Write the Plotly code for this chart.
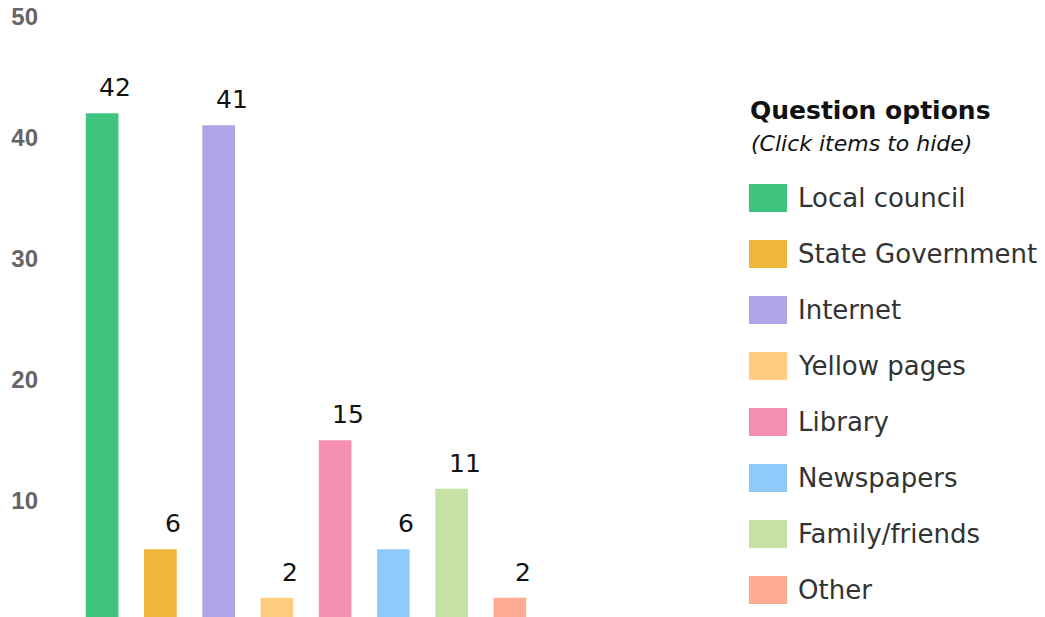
import plotly.graph_objects as go

categories = ["Local council", "State Government", "Internet", "Yellow pages",
              "Library", "Newspapers", "Family/friends", "Other"]
counts = [42, 6, 41, 2, 15, 6, 11, 2]
colors = ["#3EC47F", "#F0B63B", "#ADA5E6", "#FFCC80",
          "#F48FB1", "#90CAF9", "#C5E1A5", "#FFAB91"]
y_ticks = [10, 20, 30, 40, 50]

# page puts the figure 8px in from the top-left corner
OFF = 8
W, H = 1045, 617
M_L, M_R, M_T, M_B = 73 - OFF, 506 + OFF, 16 - OFF, OFF
plot_w = W - M_L - M_R
plot_h = H - M_T - M_B


def px_x(px):
    return (px - OFF - M_L) / plot_w


def px_y(py):
    return (H - M_B - (py - OFF)) / plot_h


fig = go.Figure(layout=dict(width=W, height=H))

for i, (cat, val, col) in enumerate(zip(categories, counts, colors)):
    fig.add_trace(go.Bar(
        x=[i], y=[val], name=cat, width=0.56,
        marker=dict(color=col, line=dict(width=0)),
        hovertemplate=f"{cat}: %{{y}}<extra></extra>",
        showlegend=False,
    ))
    fig.add_annotation(
        x=i, y=val, text=str(val), showarrow=False,
        xshift=13, yshift=9, yanchor="bottom",
        font=dict(family="DejaVu Sans", size=25, color="#111"),
    )

# legend drawn by hand so the swatches can be large
fig.add_annotation(
    xref="paper", yref="paper", x=px_x(748), y=px_y(111),
    xanchor="left", yanchor="middle", showarrow=False,
    text="<b>Question options</b>",
    font=dict(family="DejaVu Sans", size=25, color="#111"),
)
fig.add_annotation(
    xref="paper", yref="paper", x=px_x(749), y=px_y(143),
    xanchor="left", yanchor="middle", showarrow=False,
    text="<i>(Click items to hide)</i>",
    font=dict(family="DejaVu Sans", size=22, color="#111"),
)
for k, (cat, col) in enumerate(zip(categories, colors)):
    cy = 198 + 56 * k
    fig.add_shape(
        type="rect", xref="paper", yref="paper",
        x0=px_x(749), x1=px_x(787), y0=px_y(cy + 14), y1=px_y(cy - 14),
        fillcolor=col, line_width=0,
    )
    fig.add_annotation(
        xref="paper", yref="paper", x=px_x(796), y=px_y(cy),
        xanchor="left", yanchor="middle", showarrow=False,
        text=cat,
        font=dict(family="DejaVu Sans", size=26, color="#333"),
    )

fig.update_layout(
    margin=dict(l=M_L, r=M_R, t=M_T, b=M_B),
    plot_bgcolor="white",
    paper_bgcolor="white",
    barmode="overlay",
    showlegend=False,
    xaxis=dict(
        range=[-0.5, 7.5], showticklabels=False, showgrid=False,
        zeroline=False, showline=False, fixedrange=True, automargin=False,
    ),
    yaxis=dict(
        range=[0.41, 50.02], tickvals=y_ticks, showgrid=False,
        zeroline=False, showline=False, ticks="", automargin=False,
        ticklabelstandoff=34, ticklabeloverflow="allow",
        tickfont=dict(family="Liberation Sans", size=24, color="#666",
                      weight="bold"),
    ),
)

fig.write_html("out.html")
